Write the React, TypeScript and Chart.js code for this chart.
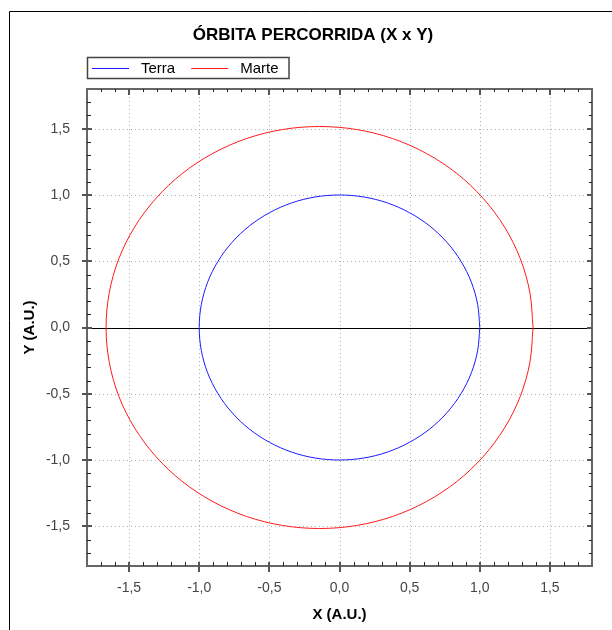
import React, { useEffect, useRef } from 'react';
import { Chart, registerables } from 'chart.js';

Chart.register(...registerables);

// ---------- text ----------
const CHART_TITLE = 'ÓRBITA PERCORRIDA (X x Y)';
const X_TITLE = 'X (A.U.)';
const Y_TITLE = 'Y (A.U.)';

// ---------- axes ----------
const AXIS_MIN = -1.8;
const AXIS_MAX = 1.8;
const MAJOR_TICKS = [-1.5, -1.0, -0.5, 0.0, 0.5, 1.0, 1.5];
const MINOR_TICKS: number[] = [];
for (let k = -18; k <= 18; k++) MINOR_TICKS.push(k / 10);

// ---------- series ----------
const SERIES_NAMES = ['Terra', 'Marte'];
const SERIES_COLORS = ['#1a1aff', '#ff1a1a'];

const terraX = [1.0, 0.985, 0.94, 0.866, 0.766, 0.643, 0.5, 0.342, 0.174, 0.0, -0.174, -0.342, -0.5, -0.643, -0.766, -0.866, -0.94, -0.985, -1.0,
  -0.985, -0.94, -0.866, -0.766, -0.643, -0.5, -0.342, -0.174, 0.0, 0.174, 0.342, 0.5, 0.643, 0.766, 0.866, 0.94, 0.985, 1.0];
const terraY = [0.0, 0.174, 0.342, 0.5, 0.643, 0.766, 0.866, 0.94, 0.985, 1.0, 0.985, 0.94, 0.866, 0.766, 0.643, 0.5, 0.342, 0.174, 0.0,
  -0.174, -0.342, -0.5, -0.643, -0.766, -0.866, -0.94, -0.985, -1.0, -0.985, -0.94, -0.866, -0.766, -0.643, -0.5, -0.342, -0.174, 0.0];

const marteX = [1.38, 1.357, 1.289, 1.176, 1.024, 0.837, 0.619, 0.379, 0.123, -0.142, -0.407, -0.663, -0.903, -1.121, -1.308, -1.46, -1.573, -1.641, -1.664,
  -1.641, -1.573, -1.46, -1.308, -1.121, -0.903, -0.663, -0.407, -0.142, 0.123, 0.379, 0.619, 0.837, 1.024, 1.176, 1.289, 1.357, 1.38];
const marteY = [0.0, 0.264, 0.519, 0.759, 0.975, 1.162, 1.314, 1.426, 1.494, 1.517, 1.494, 1.426, 1.314, 1.162, 0.975, 0.759, 0.519, 0.264, 0.0,
  -0.264, -0.519, -0.759, -0.975, -1.162, -1.314, -1.426, -1.494, -1.517, -1.494, -1.426, -1.314, -1.162, -0.975, -0.759, -0.519, -0.264, 0.0];

const fmt = (v: number) => v.toFixed(1).replace('.', ',');

const FONT = "'Liberation Sans', Arial, sans-serif";

const decorPlugin = {
  id: 'decor',
  beforeDatasetsDraw(chart: any) {
    const { ctx, chartArea: a, scales } = chart;
    const x = scales.x, y = scales.y;
    ctx.save();
    // dotted grid
    ctx.strokeStyle = '#b0b0b0';
    ctx.lineWidth = 1;
    ctx.setLineDash([1, 3]);
    for (const v of MAJOR_TICKS) {
      const px = Math.round(x.getPixelForValue(v)) + 0.5;
      ctx.beginPath(); ctx.moveTo(px, a.top); ctx.lineTo(px, a.bottom); ctx.stroke();
      const py = Math.round(y.getPixelForValue(v)) + 0.5;
      ctx.beginPath(); ctx.moveTo(a.left, py); ctx.lineTo(a.right, py); ctx.stroke();
    }
    ctx.setLineDash([]);
    // zero line
    const y0 = Math.round(y.getPixelForValue(0)) + 0.5;
    ctx.strokeStyle = '#000';
    ctx.beginPath(); ctx.moveTo(a.left, y0); ctx.lineTo(a.right, y0); ctx.stroke();
    ctx.restore();
  },
  afterDraw(chart: any) {
    const { ctx, chartArea: a, scales } = chart;
    const x = scales.x, y = scales.y;
    ctx.save();
    // outer frame
    ctx.strokeStyle = '#000';
    ctx.lineWidth = 1;
    ctx.beginPath();
    ctx.moveTo(9.5, chart.height);
    ctx.lineTo(9.5, 11.5);
    ctx.lineTo(chart.width, 11.5);
    ctx.stroke();

    // plot box
    ctx.strokeStyle = '#666';
    ctx.lineWidth = 2;
    ctx.strokeRect(a.left, a.top, a.right - a.left, a.bottom - a.top);

    // minor ticks
    ctx.strokeStyle = '#222';
    ctx.lineWidth = 1;
    for (const v of MINOR_TICKS) {
      if (MAJOR_TICKS.some((m) => Math.abs(m - v) < 1e-6)) continue;
      if (v <= AXIS_MIN + 1e-6 || v >= AXIS_MAX - 1e-6) continue;
      const px = Math.round(x.getPixelForValue(v)) + 0.5;
      const py = Math.round(y.getPixelForValue(v)) + 0.5;
      ctx.beginPath();
      ctx.moveTo(px, a.bottom); ctx.lineTo(px, a.bottom - 4);
      ctx.moveTo(px, a.top); ctx.lineTo(px, a.top + 3);
      ctx.moveTo(a.left, py); ctx.lineTo(a.left + 4, py);
      ctx.moveTo(a.right, py); ctx.lineTo(a.right - 3, py);
      ctx.stroke();
    }
    // major ticks
    ctx.strokeStyle = '#555';
    ctx.lineWidth = 2;
    for (const v of MAJOR_TICKS) {
      const px = Math.round(x.getPixelForValue(v));
      const py = Math.round(y.getPixelForValue(v));
      ctx.beginPath();
      ctx.moveTo(px, a.bottom - 4); ctx.lineTo(px, a.bottom + 6);
      ctx.moveTo(px, a.top); ctx.lineTo(px, a.top + 6);
      ctx.moveTo(a.left - 5, py); ctx.lineTo(a.left + 5, py);
      ctx.moveTo(a.right, py); ctx.lineTo(a.right - 5, py);
      ctx.stroke();
    }

    // title
    ctx.fillStyle = '#000';
    ctx.font = `bold 17px ${FONT}`;
    ctx.textAlign = 'center';
    ctx.textBaseline = 'alphabetic';
    ctx.fillText(CHART_TITLE, 313, 40);

    // legend
    ctx.font = `15px ${FONT}`;
    ctx.textBaseline = 'middle';
    ctx.textAlign = 'left';
    const ly = 68;
    let lx = a.left + 5;
    const lineLen = 37;
    chart.data.datasets.forEach((ds: any, i: number) => {
      ctx.strokeStyle = ds.borderColor;
      ctx.lineWidth = 1;
      ctx.beginPath();
      ctx.moveTo(lx, ly + 0.5); ctx.lineTo(lx + lineLen, ly + 0.5);
      ctx.stroke();
      lx += lineLen + 12;
      ctx.fillStyle = '#000';
      ctx.fillText(ds.label, lx, ly + 1);
      lx += ctx.measureText(ds.label).width + (i < chart.data.datasets.length - 1 ? 16 : 10);
    });
    ctx.strokeStyle = '#444';
    ctx.lineWidth = 1.5;
    ctx.strokeRect(a.left + 0.5, 57.5, lx - a.left, 21);
    ctx.restore();
  },
};

export default function App() {
  const ref = useRef<HTMLCanvasElement | null>(null);
  useEffect(() => {
    if (!ref.current) return;
    const chart = new Chart(ref.current, {
      type: 'scatter',
      data: {
        datasets: [
          {
            label: SERIES_NAMES[0],
            data: terraX.map((v, i) => ({ x: v, y: terraY[i] })),
            borderColor: SERIES_COLORS[0],
            backgroundColor: SERIES_COLORS[0],
            borderWidth: 1,
            showLine: true,
            pointRadius: 0,
            tension: 0.335,
            fill: false,
          },
          {
            label: SERIES_NAMES[1],
            data: marteX.map((v, i) => ({ x: v, y: marteY[i] })),
            borderColor: SERIES_COLORS[1],
            backgroundColor: SERIES_COLORS[1],
            borderWidth: 1,
            showLine: true,
            pointRadius: 0,
            tension: 0.335,
            fill: false,
          },
        ],
      },
      options: {
        responsive: false,
        animation: false,
        devicePixelRatio: 1,
        layout: { padding: { top: 89, right: 20, left: 0, bottom: 0 } },
        plugins: {
          legend: { display: false },
          title: { display: false },
          tooltip: { enabled: false },
        },
        scales: {
          x: {
            type: 'linear',
            min: AXIS_MIN,
            max: AXIS_MAX,
            afterBuildTicks: (s: any) => { s.ticks = MAJOR_TICKS.map((v) => ({ value: v })); },
            afterFit: (s: any) => { s.height = 64; },
            grid: { display: false, drawTicks: false },
            border: { display: false },
            ticks: {
              padding: 14,
              color: '#444',
              font: { family: FONT, size: 14 },
              callback: (v: any) => fmt(Number(v)),
              maxRotation: 0,
              autoSkip: false,
            },
            title: {
              display: true,
              text: X_TITLE,
              color: '#000',
              font: { family: FONT, size: 15, weight: 'bold' },
              padding: { top: 0, bottom: 6 },
            },
          },
          y: {
            type: 'linear',
            min: AXIS_MIN,
            max: AXIS_MAX,
            afterBuildTicks: (s: any) => { s.ticks = MAJOR_TICKS.map((v) => ({ value: v })); },
            afterFit: (s: any) => { s.width = 87; },
            grid: { display: false, drawTicks: false },
            border: { display: false },
            ticks: {
              padding: 17,
              color: '#444',
              font: { family: FONT, size: 14 },
              callback: (v: any) => fmt(Number(v)),
              autoSkip: false,
            },
            title: {
              display: true,
              text: Y_TITLE,
              color: '#000',
              font: { family: FONT, size: 15, weight: 'bold' },
              padding: { top: 21, bottom: 0 },
            },
          },
        },
      },
      plugins: [decorPlugin],
    } as any);
    return () => chart.destroy();
  }, []);

  return (
    <div style={{ position: 'absolute', left: 0, top: 0, width: 612, height: 630, background: '#fff', overflow: 'hidden' }}>
      <canvas ref={ref} width={612} height={630} style={{ display: 'block', width: 612, height: 630 }} />
    </div>
  );
}
